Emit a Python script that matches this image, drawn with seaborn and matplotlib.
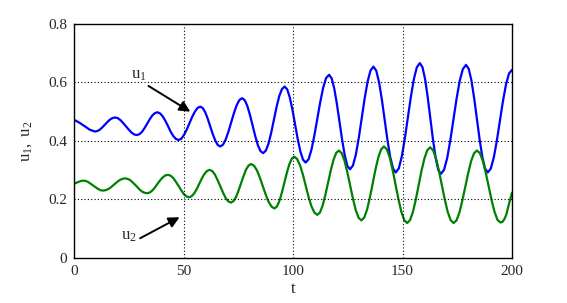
import pandas as pd
from matplotlib import pyplot as plt
import seaborn as sns

# values (peaks, troughs and points in between)
t_u1 = [0, 2.4, 4.8, 7.1,
        9.5, 10.64, 11.78, 12.91, 14.05, 15.19, 16.32, 17.46,
        18.6, 19.85, 21.1, 22.35, 23.6, 24.85, 26.1, 27.35,
        28.6, 29.78, 30.95, 32.13, 33.3, 34.48, 35.65, 36.83,
        38.0, 39.2, 40.4, 41.6, 42.8, 44.0, 45.2, 46.4,
        47.6, 48.85, 50.1, 51.35, 52.6, 53.85, 55.1, 56.35,
        57.6, 58.74, 59.88, 61.01, 62.15, 63.29, 64.43, 65.56,
        66.7, 67.95, 69.2, 70.45, 71.7, 72.95, 74.2, 75.45,
        76.7, 77.9, 79.1, 80.3, 81.5, 82.7, 83.9, 85.1,
        86.3, 87.53, 88.75, 89.98, 91.2, 92.43, 93.65, 94.88,
        96.1, 97.3, 98.5, 99.7, 100.9, 102.1, 103.3, 104.5,
        105.7, 107.04, 108.38, 109.71, 111.05, 112.39, 113.73, 115.06,
        116.4, 117.6, 118.8, 120.0, 121.2, 122.4, 123.6, 124.8,
        126.0, 127.34, 128.68, 130.01, 131.35, 132.69, 134.03, 135.36,
        136.7, 137.98, 139.25, 140.53, 141.8, 143.08, 144.35, 145.63,
        146.9, 148.28, 149.65, 151.03, 152.4, 153.78, 155.15, 156.53,
        157.9, 159.1, 160.3, 161.5, 162.7, 163.9, 165.1, 166.3,
        167.5, 168.94, 170.38, 171.81, 173.25, 174.69, 176.13, 177.56,
        179.0, 180.24, 181.48, 182.71, 183.95, 185.19, 186.43, 187.66,
        188.9, 190.29, 191.68, 193.06, 194.45, 195.84, 197.23, 198.61,
        200]
u1 = [0.472, 0.462, 0.450, 0.438,
      0.432, 0.434, 0.439, 0.447, 0.456, 0.465, 0.473, 0.478,
      0.480, 0.478, 0.471, 0.461, 0.450, 0.439, 0.429, 0.422,
      0.420, 0.423, 0.431, 0.444, 0.459, 0.474, 0.487, 0.495,
      0.498, 0.494, 0.484, 0.469, 0.451, 0.432, 0.417, 0.407,
      0.403, 0.407, 0.420, 0.438, 0.460, 0.482, 0.500, 0.513,
      0.517, 0.512, 0.497, 0.475, 0.449, 0.423, 0.401, 0.386,
      0.381, 0.387, 0.405, 0.432, 0.464, 0.495, 0.522, 0.540,
      0.546, 0.539, 0.519, 0.488, 0.452, 0.416, 0.385, 0.365,
      0.358, 0.367, 0.391, 0.428, 0.472, 0.516, 0.553, 0.577,
      0.586, 0.576, 0.548, 0.506, 0.456, 0.406, 0.364, 0.336,
      0.326, 0.337, 0.370, 0.419, 0.476, 0.533, 0.582, 0.615,
      0.626, 0.614, 0.579, 0.526, 0.465, 0.403, 0.350, 0.314,
      0.303, 0.316, 0.354, 0.411, 0.479, 0.546, 0.603, 0.641,
      0.654, 0.640, 0.601, 0.542, 0.473, 0.404, 0.345, 0.306,
      0.292, 0.306, 0.347, 0.408, 0.479, 0.550, 0.611, 0.652,
      0.666, 0.652, 0.611, 0.549, 0.477, 0.404, 0.342, 0.301,
      0.287, 0.301, 0.341, 0.402, 0.474, 0.545, 0.606, 0.646,
      0.660, 0.646, 0.606, 0.546, 0.476, 0.406, 0.346, 0.306,
      0.292, 0.305, 0.343, 0.400, 0.468, 0.535, 0.592, 0.630,
      0.643]

t_u2 = [0, 1.0, 2.05, 3.1,
        4.1, 5.25, 6.4, 7.55, 8.7, 9.85, 11.0, 12.15,
        13.3, 14.54, 15.78, 17.01, 18.25, 19.49, 20.73, 21.96,
        23.2, 24.45, 25.7, 26.95, 28.2, 29.45, 30.7, 31.95,
        33.2, 34.4, 35.6, 36.8, 38.0, 39.2, 40.4, 41.6,
        42.8, 44.01, 45.23, 46.44, 47.65, 48.86, 50.08, 51.29,
        52.5, 53.66, 54.83, 55.99, 57.15, 58.31, 59.48, 60.64,
        61.8, 63.03, 64.25, 65.48, 66.7, 67.93, 69.15, 70.38,
        71.6, 72.75, 73.9, 75.05, 76.2, 77.35, 78.5, 79.65,
        80.8, 82.14, 83.48, 84.81, 86.15, 87.49, 88.83, 90.16,
        91.5, 92.63, 93.75, 94.88, 96.0, 97.13, 98.25, 99.38,
        100.5, 101.81, 103.13, 104.44, 105.75, 107.06, 108.38, 109.69,
        111.0, 112.24, 113.48, 114.71, 115.95, 117.19, 118.43, 119.66,
        120.9, 122.19, 123.48, 124.76, 126.05, 127.34, 128.63, 129.91,
        131.2, 132.49, 133.78, 135.06, 136.35, 137.64, 138.93, 140.21,
        141.5, 142.83, 144.15, 145.48, 146.8, 148.13, 149.45, 150.78,
        152.1, 153.41, 154.73, 156.04, 157.35, 158.66, 159.98, 161.29,
        162.6, 163.94, 165.28, 166.61, 167.95, 169.29, 170.63, 171.96,
        173.3, 174.64, 175.98, 177.31, 178.65, 179.99, 181.33, 182.66,
        184.0, 185.34, 186.68, 188.01, 189.35, 190.69, 192.03, 193.36,
        194.7, 195.6, 196.5, 197.4, 198.3, 199.2, 200]
u2 = [0.253, 0.257, 0.260, 0.263,
      0.264, 0.263, 0.259, 0.253, 0.247, 0.241, 0.235, 0.231,
      0.230, 0.232, 0.236, 0.243, 0.251, 0.259, 0.266, 0.270,
      0.272, 0.270, 0.265, 0.256, 0.247, 0.237, 0.228, 0.223,
      0.221, 0.223, 0.230, 0.240, 0.253, 0.265, 0.275, 0.282,
      0.284, 0.281, 0.273, 0.260, 0.246, 0.231, 0.218, 0.210,
      0.207, 0.211, 0.221, 0.236, 0.254, 0.272, 0.287, 0.297,
      0.301, 0.297, 0.285, 0.266, 0.245, 0.224, 0.205, 0.193,
      0.189, 0.194, 0.208, 0.230, 0.255, 0.280, 0.302, 0.316,
      0.321, 0.315, 0.299, 0.274, 0.245, 0.216, 0.191, 0.175,
      0.169, 0.176, 0.195, 0.224, 0.258, 0.291, 0.320, 0.339,
      0.346, 0.338, 0.317, 0.285, 0.247, 0.208, 0.176, 0.155,
      0.147, 0.155, 0.179, 0.215, 0.257, 0.299, 0.335, 0.359,
      0.367, 0.358, 0.332, 0.293, 0.248, 0.202, 0.163, 0.137,
      0.128, 0.138, 0.165, 0.206, 0.255, 0.303, 0.344, 0.371,
      0.381, 0.371, 0.343, 0.300, 0.250, 0.200, 0.157, 0.129,
      0.119, 0.129, 0.157, 0.199, 0.249, 0.298, 0.340, 0.368,
      0.378, 0.368, 0.340, 0.298, 0.249, 0.199, 0.157, 0.129,
      0.119, 0.128, 0.155, 0.196, 0.243, 0.290, 0.331, 0.358,
      0.367, 0.358, 0.331, 0.291, 0.244, 0.197, 0.157, 0.130,
      0.121, 0.123, 0.132, 0.148, 0.175, 0.200, 0.223]

x_ticks = [0, 50, 100, 150, 200]
y_ticks = [0, 0.2, 0.4, 0.6, 0.8]
y_tick_labels = ['0', '0.2', '0.4', '0.6', '0.8']

sns.set_style("white")
plt.rcParams['font.family'] = ['Liberation Serif', 'DejaVu Serif']
plt.rcParams['mathtext.fontset'] = 'custom'
plt.rcParams['mathtext.rm'] = 'Liberation Serif'
plt.rcParams['mathtext.it'] = 'Liberation Serif'

df1 = pd.DataFrame({'t': t_u1, 'u': u1})
df2 = pd.DataFrame({'t': t_u2, 'u': u2})

fig = plt.figure(figsize=(5.67, 3.03), dpi=100)
ax = fig.add_axes([0.131, 0.149, 0.772, 0.772])

sns.lineplot(data=df1, x='t', y='u', color='#0000ff', lw=1.6, ax=ax)
sns.lineplot(data=df2, x='t', y='u', color='#008000', lw=1.6, ax=ax)

ax.set_xlim(0, 200)
ax.set_ylim(0, 0.8)
ax.set_xticks(x_ticks)
ax.set_yticks(y_ticks)
ax.set_xticklabels([str(v) for v in x_ticks])
ax.set_yticklabels(y_tick_labels)
ax.tick_params(length=0, labelsize=11, pad=5)

# dotted grid only at the inner ticks
for g in x_ticks[1:-1]:
    ax.axvline(g, color='black', lw=0.8, ls=(0, (1, 2)))
for g in y_ticks[1:-1]:
    ax.axhline(g, color='black', lw=0.8, ls=(0, (1, 2)))

for s in ax.spines.values():
    s.set_color('black')
    s.set_linewidth(1.0)

ax.set_xlabel('t', fontsize=12, labelpad=2)
ax.set_ylabel(r'$\mathrm{u}_1\mathrm{,\ u}_2$', fontsize=12, labelpad=10)

arrow = dict(arrowstyle='-|>', color='black', lw=1.4, mutation_scale=16, shrinkA=0, shrinkB=0)
ax.annotate('', xy=(53, 0.50), xytext=(33.9, 0.588), arrowprops=arrow)
ax.text(29.5, 0.625, r'$\mathrm{u}_1$', fontsize=12, ha='center', va='center')
ax.annotate('', xy=(48.1, 0.139), xytext=(30.1, 0.067), arrowprops=arrow)
ax.text(25, 0.075, r'$\mathrm{u}_2$', fontsize=12, ha='center', va='center')

plt.savefig('out.png', dpi=100)
